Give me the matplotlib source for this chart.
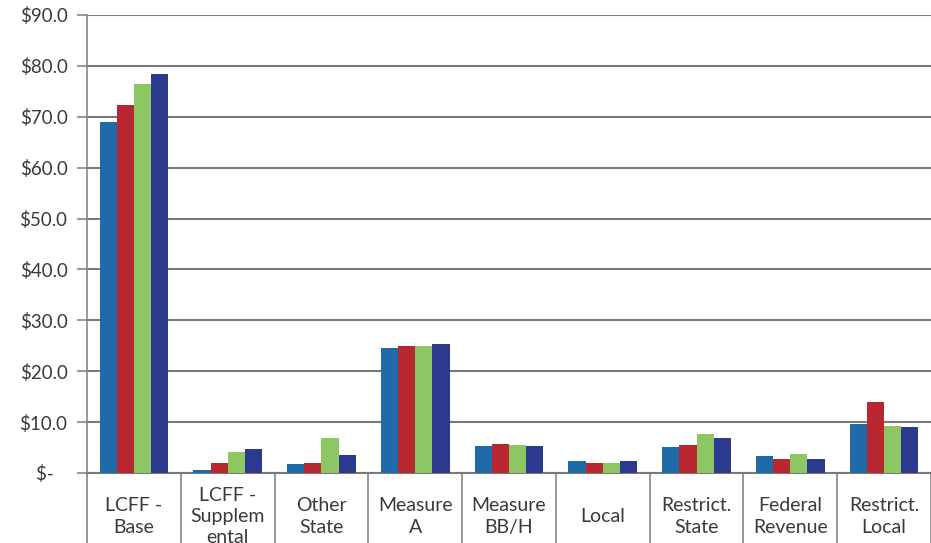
import matplotlib
matplotlib.use("Agg")
import matplotlib.pyplot as plt
import numpy as np

categories = ["LCFF -\nBase", "LCFF -\nSupplem\nental", "Other\nState", "Measure\nA",
              "Measure\nBB/H", "Local", "Restrict.\nState", "Federal\nRevenue", "Restrict.\nLocal"]
series1 = [69.0, 0.6, 1.7, 24.5, 5.3, 2.35, 5.2, 3.4, 9.6]
series2 = [72.3, 2.0, 2.0, 24.9, 5.7, 2.0, 5.6, 2.75, 14.0]
series3 = [76.4, 4.1, 6.8, 24.9, 5.6, 2.0, 7.6, 3.7, 9.3]
series4 = [78.4, 4.7, 3.5, 25.4, 5.4, 2.35, 6.8, 2.75, 9.1]
yticks = [0, 10, 20, 30, 40, 50, 60, 70, 80, 90]
ytick_labels = ["$-   ", "$10.0", "$20.0", "$30.0", "$40.0", "$50.0", "$60.0", "$70.0", "$80.0", "$90.0"]

colors = ["#1f6aa8", "#b8262f", "#8dc763", "#2c3a8e"]
font = "Lato"
txt_color = "#3a3a3a"

fig = plt.figure(figsize=(9.31, 5.43), dpi=100)
ax = fig.add_axes([87/931, 70/543, 844/931, 458/543])

x = np.arange(len(categories))
w = 0.183
for i, (vals, c) in enumerate(zip([series1, series2, series3, series4], colors)):
    ax.bar(x + (i - 1.5) * w, vals, width=w, color=c, zorder=3)

ax.set_xlim(-0.5, len(categories) - 0.5)
ax.set_ylim(0, 90)
ax.set_yticks(yticks)
ax.set_yticklabels(ytick_labels, fontfamily=font, fontsize=13.5, color=txt_color)
ax.tick_params(axis="y", length=7, width=1.2, color="#868686", pad=7)
ax.set_xticks([])
ax.yaxis.grid(True, color="#7a7a7a", linewidth=1.5, zorder=0)
for s in ["top", "right"]:
    ax.spines[s].set_visible(False)
ax.spines["left"].set_color("#868686")
ax.spines["left"].set_linewidth(1.2)
ax.spines["bottom"].set_color("#7a7a7a")
ax.spines["bottom"].set_linewidth(1.5)

trans = matplotlib.transforms.blended_transform_factory(ax.transData, ax.transAxes)
for k in range(len(categories) + 1):
    ax.plot([k - 0.5, k - 0.5], [0, -0.2], transform=trans, color="#868686",
            linewidth=1.2, clip_on=False)
for xi, lab in zip(x, categories):
    ax.text(xi, -0.095, lab, transform=trans, ha="center", va="center",
            multialignment="center", fontsize=14, fontfamily=font, color=txt_color,
            linespacing=1.3)

fig.savefig("out.png", dpi=100)
